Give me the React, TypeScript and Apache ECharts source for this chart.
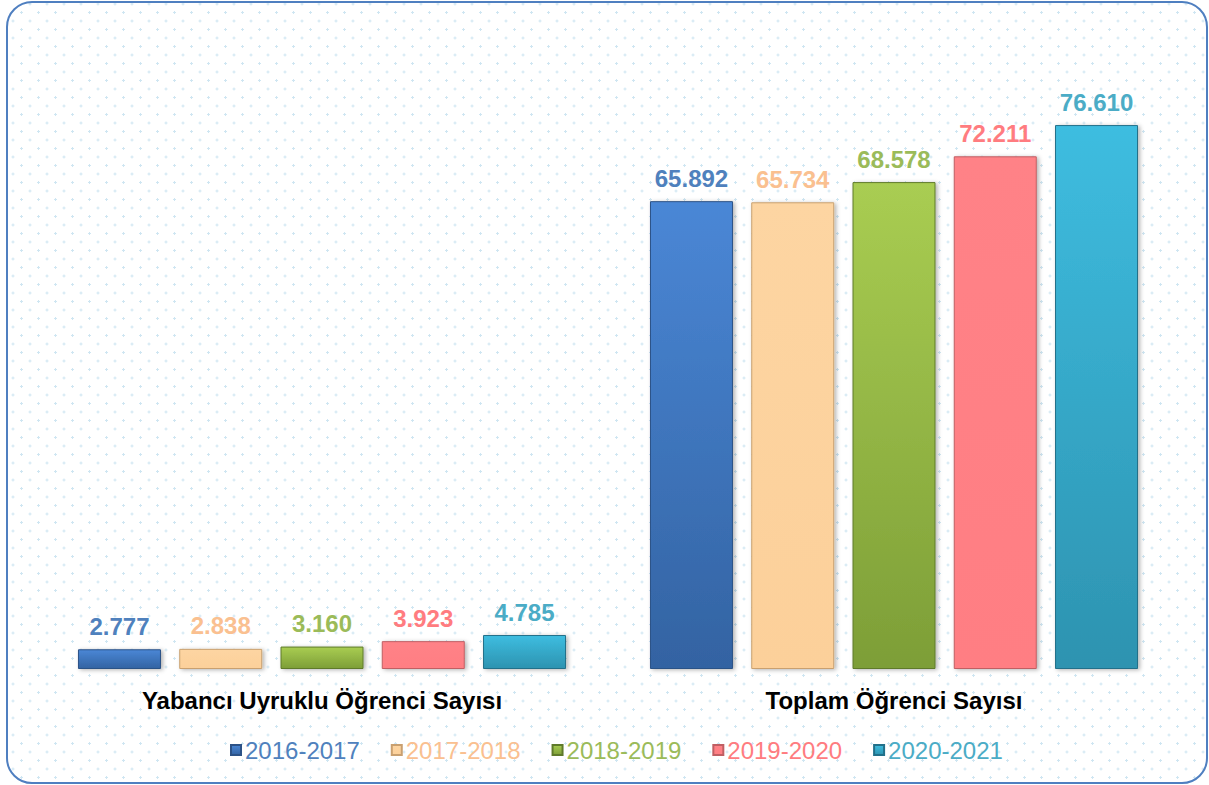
import React, { useEffect, useRef } from "react";
import * as echarts from "echarts";

const categories = ["Yabancı Uyruklu Öğrenci Sayısı", "Toplam Öğrenci Sayısı"];
const years = ["2016-2017", "2017-2018", "2018-2019", "2019-2020", "2020-2021"];
const v20162017 = [2777, 65892];
const v20172018 = [2838, 65734];
const v20182019 = [3160, 68578];
const v20192020 = [3923, 72211];
const v20202021 = [4785, 76610];
const seriesValues = [v20162017, v20172018, v20182019, v20192020, v20202021];

const topColors = ["#4A87D6", "#FDD5A2", "#A9CD52", "#FF8287", "#3EBDE0"];
const bottomColors = ["#3363A2", "#FCD09A", "#7D9E37", "#FF7E83", "#2D93B0"];
const borderColors = ["#2C5287", "#C9A070", "#5F7A2A", "#C05F63", "#21708A"];
const labelColors = ["#4F81BD", "#FAC090", "#9BBB59", "#FF7C80", "#4BACC6"];

const fmt = (v: number) => String(v).replace(/\B(?=(\d{3})+(?!\d))/g, ".");

export default function App() {
  const ref = useRef<HTMLDivElement>(null);
  useEffect(() => {
    if (!ref.current) return;
    const chart = echarts.init(ref.current, undefined, { renderer: "svg" });
    const font = "'Liberation Sans', Arial, sans-serif";
    chart.setOption({
      animation: false,
      backgroundColor: "transparent",
      grid: { left: 36, right: 29, top: 101, bottom: 116, containLabel: false },
      xAxis: {
        type: "category",
        data: categories,
        axisTick: { show: false },
        axisLine: {
          show: true,
          lineStyle: {
            color: "#D0D0D0",
            width: 3,
            shadowColor: "rgba(0,0,0,0.15)",
            shadowBlur: 2,
            shadowOffsetY: 1,
          },
        },
        axisLabel: {
          margin: 19,
          fontSize: 24,
          fontWeight: "bold",
          color: "#000000",
          fontFamily: font,
        },
      },
      yAxis: {
        type: "value",
        min: 0,
        max: 80000,
        show: false,
        splitLine: { show: false },
      },
      legend: {
        top: 733,
        left: 225,
        itemWidth: 10,
        itemHeight: 10,
        itemGap: 31,
        icon: "rect",
        data: years.map((y, i) => ({
          name: y,
          textStyle: { color: labelColors[i] },
        })),
        textStyle: { fontSize: 24, fontFamily: font, padding: [0, 0, 0, -1] },
      },
      series: years.map((y, i) => ({
        name: y,
        type: "bar",
        barWidth: 83,
        barGap: "22%",
        data: seriesValues[i],
        itemStyle: {
          color: new echarts.graphic.LinearGradient(0, 0, 0, 1, [
            { offset: 0, color: topColors[i] },
            { offset: 1, color: bottomColors[i] },
          ]),
          borderColor: borderColors[i],
          borderWidth: 1,
          shadowColor: "rgba(0,0,0,0.3)",
          shadowBlur: 4,
          shadowOffsetX: 2,
          shadowOffsetY: 1,
        },
        label: {
          show: true,
          position: "top",
          distance: 11,
          fontSize: 24,
          fontWeight: "bold",
          color: labelColors[i],
          fontFamily: font,
          formatter: (p: any) => fmt(p.value),
        },
      })),
    });
    return () => chart.dispose();
  }, []);

  return (
    <div style={{ position: "fixed", left: 0, top: 0, width: 1209, height: 785, background: "#ffffff" }}>
      <div
        style={{
          position: "absolute",
          left: 6,
          top: 1,
          width: 1202,
          height: 783,
          boxSizing: "border-box",
          border: "2px solid #4F7FC0",
          borderRadius: 26,
          backgroundImage:
            "radial-gradient(circle, #CFE6F2 1.1px, transparent 1.4px), radial-gradient(circle, #CFE6F2 1.1px, transparent 1.4px)",
          backgroundSize: "17px 17px, 17px 17px",
          backgroundPosition: "5px 1px, 13.5px 9.5px",
        }}
      />
      <div ref={ref} style={{ position: "absolute", left: 0, top: 0, width: 1209, height: 785 }} />
    </div>
  );
}
